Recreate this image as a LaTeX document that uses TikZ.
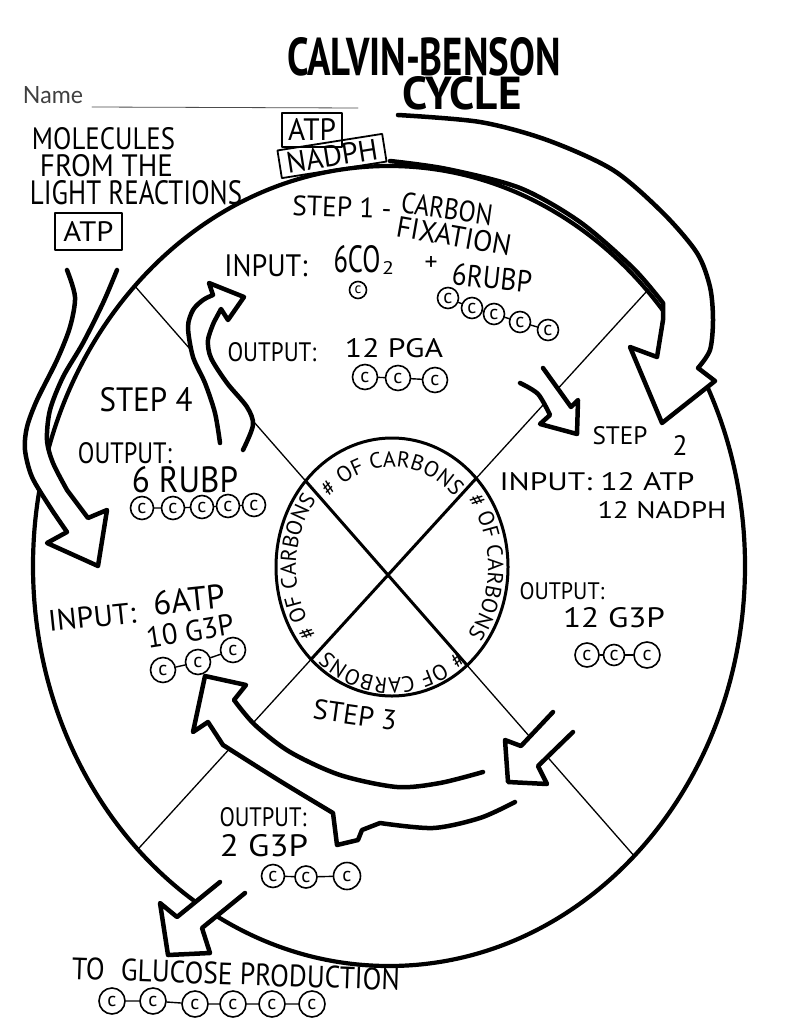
\documentclass[tikz,border=0pt]{standalone}
\usepackage{fontspec}
\usepackage{graphicx}
\usetikzlibrary{decorations.text,calc}
\newfontfamily\hand{PT Sans}
\newfontfamily\namefont{Lato}
\newcommand{\hw}[3]{\resizebox{#1pt}{#2pt}{\hand #3}}
\newcommand{\hwb}[3]{\resizebox{#1pt}{#2pt}{\hand\bfseries #3}}
\newcommand{\carbfont}{\hand\fontsize{22}{22}\selectfont}
\begin{document}
\begin{tikzpicture}[x=1pt,y=-1pt,line join=round,line cap=round,
  outline/.style={line width=4.2pt},
  band/.style={line width=4.5pt,fill=white},
  divider/.style={line width=1.3pt},
  hub/.style={line width=3pt},
  txt/.style={inner sep=0pt,outer sep=0pt},
  carb/.style={circle,draw,line width=1.6pt,inner sep=0pt,font=\hand\fontsize{20}{20}\selectfont},
  link/.style={line width=1.4pt},
  tag/.style={draw,line width=1.8pt,inner sep=0pt},
  arcword/.style={decorate,decoration={text along path,text={|\carbfont|{\#} OF CARBONS},text align=center}}]
\fill[white] (0,0) rectangle (791,1024);
\useasboundingbox (0,0) rectangle (791,1024);
% centres
\coordinate (O) at (389,566);
\coordinate (I) at (392,567);
\coordinate (d1a) at (91,236);
\coordinate (d1b) at (685,914);
\coordinate (d2a) at (688,246);
\coordinate (d2b) at (88,904);
% outer ellipse
\draw[outline] (O) ellipse [x radius=356, y radius=400];
% dividers
\begin{scope}
\clip (O) ellipse [x radius=355, y radius=399];
\draw[divider] (d1a) -- (d1b);
\draw[divider] (d2a) -- (d2b);
\end{scope}
\begin{scope}
\clip (I) ellipse [x radius=116, y radius=129];
\draw[hub] (d1a) -- (d1b);
\draw[hub] (d2a) -- (d2b);
\end{scope}
\draw[hub] (I) ellipse [x radius=116, y radius=129];
% carbon labels along inner circle (baseline ellipses inside the ring)
\path[arcword] ($(I)+(226:87 and 100)$) arc[start angle=226,end angle=314,x radius=87,y radius=100];
\path[arcword] ($(I)+(316:96 and 109)$) arc[start angle=316,end angle=404,x radius=96,y radius=109];
\path[arcword] ($(I)+(46:98 and 111)$) arc[start angle=46,end angle=134,x radius=98,y radius=111];
\path[arcword] ($(I)+(136:96 and 109)$) arc[start angle=136,end angle=224,x radius=96,y radius=109];
% big top arrow
\draw[band] plot[smooth] coordinates {(398,115) (480,122) (547,140) (613,170) (663,213) (697,253) (710,287) (713,320) (710,350) (698,368)}
  -- (715,381) -- (662,423) -- (630,347) -- (657,357) -- (663,320)
  -- plot[smooth] coordinates {(663,303) (633,268) (580,222) (520,188) (447,169) (390,161)};
% step1 -> step2
\draw[band] plot[smooth] coordinates {(520,383) (538,394) (550,415)}
  -- (540,424) -- (577,434) -- (578,400) -- (571,407) -- (543,368);
% step2 -> step3
\draw[band] (553,712) -- (521,746) -- (505,740) -- (508,782) -- (547,784) -- (538,766) -- (573,732);
% step3 -> step4
\draw[band] plot[smooth] coordinates {(483,772) (440,783) (397,787) (340,775) (290,752) (255,725) (234,700)}
  -- (246,685) -- (205,676) -- (193,732) -- (208,722)
  -- plot[smooth] coordinates {(223,745) (280,781) (333,813)}
  -- (337,845) -- (358,840) -- (362,830)
  -- plot[smooth] coordinates {(380,823) (433,828) (480,818) (515,802)};
% step4 -> step1
\draw[band] plot[smooth] coordinates {(220,443) (215,413) (205,383) (193,357) (188,327) (193,310) (203,300) (213,295)}
  -- (209,283) -- (244,297) -- (228,320) -- (221,309)
  -- plot[smooth] coordinates {(214,322) (208,340) (211,358) (227,383) (247,407) (253,425) (243,450)};
% light reactions -> cycle
\draw[band] plot[smooth] coordinates {(67,270) (75,297) (70,327) (57,360) (37,400) (27,427) (25,450) (32,477) (50,507) (67,532)}
  -- (47,543) -- (98,566) -- (107,510) -- (88,518)
  -- plot[smooth] coordinates {(67,490) (53,463) (47,440) (50,410) (63,377) (83,343) (103,303) (117,270)};
% to glucose
\draw[band] (220,882) -- (177,917) -- (160,903) -- (168,955) -- (210,953) -- (202,928) -- (245,893);
% title and name
\node[txt] (title1) at (424,57) {\hwb{273}{38}{CALVIN-BENSON}};
\node[txt] (title2) at (462,93) {\hwb{119}{33}{CYCLE}};
\node[txt,text=black!75] (name) at (53,95.5) {\resizebox{60pt}{17pt}{\namefont Name}};
\coordinate (nl1) at (92,107);
\coordinate (nl2) at (358,108);
\draw[black!70,line width=0.8pt] (nl1) -- (nl2);
% light reactions
\node[txt] (m1) at (103.5,139) {\hw{143}{22}{MOLECULES}};
\node[txt] (m2) at (106.5,166) {\hw{133}{22}{FROM THE}};
\node[txt] (m3) at (136,192.5) {\hw{212}{24}{LIGHT REACTIONS}};
\node[tag,minimum width=67pt,minimum height=37pt] (atpL) at (88.5,231.5) {\hw{50}{20}{ATP}};
\node[tag,minimum width=60pt,minimum height=34pt] (atpT) at (312,130) {\hw{48}{22}{ATP}};
\node[tag,rotate=9,minimum width=106pt,minimum height=28pt] (nadph) at (332,156) {\hw{92}{21}{NADPH}};
% step 1
\node[txt,rotate=-2] (s1a) at (342,207) {\hw{99}{20}{STEP 1 -}};
\node[txt,rotate=-8] (s1b) at (447,209) {\hw{92}{21}{CARBON}};
\node[txt,rotate=-10] (s1c) at (454,236) {\hw{116}{21}{FIXATION}};
\node[txt] (in1) at (266,266) {\hw{83}{22}{INPUT:}};
\node[txt] (co) at (357,259) {\hw{47}{27}{6CO}};
\node[txt] (cosub) at (388,268) {\hw{12}{13}{2}};
\node[txt] (plus) at (431,263) {\hw{13}{14}{+}};
\node[txt,rotate=-6] (rub1) at (492,278) {\hw{80}{22}{6RUBP}};
\node[txt] (out1) at (272,352) {\hw{89}{19}{OUTPUT:}};
\node[txt] (pga) at (394,348) {\hw{98}{19}{12 PGA}};
% step 4
\node[txt] (s4) at (146,400) {\hw{93}{24}{STEP 4}};
\node[txt] (out4) at (125,453) {\hw{94}{21}{OUTPUT:}};
\node[txt] (rub4) at (185,480) {\hw{106}{26}{6 RUBP}};
% step 2
\node[txt] (s2) at (620,436) {\hw{55}{18}{STEP}};
\node[txt] (s2n) at (680,445) {\hw{15}{20}{2}};
\node[txt] (in2) at (597,482) {\hw{195}{18}{INPUT: 12 ATP}};
\node[txt] (in2b) at (662,510) {\hw{129}{17}{12 NADPH}};
\node[txt] (out2) at (562,591) {\hw{85}{17}{OUTPUT:}};
\node[txt] (g3a) at (614,618) {\hw{102}{20}{12 G3P}};
% left input
\node[txt,rotate=6] (in3) at (92,617) {\hw{88}{21}{INPUT:}};
\node[txt,rotate=6] (atp3) at (189,600) {\hw{72}{24}{6ATP}};
\node[txt,rotate=9] (g3b) at (190,631) {\hw{88}{21}{10 G3P}};
% step 3
\node[txt,rotate=-8] (s3) at (355,715) {\hw{84}{20}{STEP 3}};
\node[txt] (out3) at (263,817) {\hw{87}{19}{OUTPUT:}};
\node[txt] (g3c) at (264,846) {\hw{88}{22}{2 G3P}};
% glucose
\node[txt,rotate=-2] (gl) at (236,974) {\hw{328}{22}{TO\hspace{0.6em}GLUCOSE PRODUCTION}};
% carbon chains
\node[carb,minimum size=17pt,font=\hand\fontsize{15}{15}\selectfont] (c0) at (358,290) {c};
\foreach \n/\p in {1/{(448,298)},2/{(472,308)},3/{(494,314)},4/{(520,322)},5/{(548,330)}}
  \node[carb,minimum size=21pt] (ra\n) at \p {c};
\draw[link] (ra1) -- (ra2) (ra2) -- (ra3) (ra3) -- (ra4) (ra4) -- (ra5);
\foreach \n/\p in {1/{(365,377)},2/{(398,378)},3/{(435,380)}}
  \node[carb,minimum size=25pt] (pg\n) at \p {c};
\draw[link] (pg1) -- (pg2) (pg2) -- (pg3);
\foreach \n/\p in {1/{(142,508)},2/{(173,508)},3/{(202,507)},4/{(228,506)},5/{(254,505)}}
  \node[carb,minimum size=23pt] (rb\n) at \p {c};
\draw[link] (rb1) -- (rb2) (rb2) -- (rb3) (rb3) -- (rb4) (rb4) -- (rb5);
\node[carb,minimum size=24pt] (ga1) at (587,655) {c};
\node[carb,minimum size=21pt] (ga2) at (614,655) {c};
\node[carb,minimum size=26pt] (ga3) at (647,655) {c};
\draw[link] (ga1) -- (ga2) (ga2) -- (ga3);
\foreach \n/\p in {1/{(163,670)},2/{(198,662)},3/{(233,650)}}
  \node[carb,minimum size=25pt] (gb\n) at \p {c};
\draw[link] (gb1) -- (gb2) (gb2) -- (gb3);
\node[carb,minimum size=23pt] (gc1) at (273,876) {c};
\node[carb,minimum size=22pt] (gc2) at (306,877) {c};
\node[carb,minimum size=27pt] (gc3) at (347,876) {c};
\draw[link] (gc1) -- (gc2) (gc2) -- (gc3);
\foreach \n/\p in {1/{(112,1001)},2/{(153,1001)},3/{(195,1004)},4/{(233,1004)},5/{(272,1004)},6/{(312,1004)}}
  \node[carb,minimum size=26pt] (gl\n) at \p {c};
\draw[link] (gl1) -- (gl2) (gl2) -- (gl3) (gl3) -- (gl4) (gl4) -- (gl5) (gl5) -- (gl6);
\end{tikzpicture}
\end{document}
